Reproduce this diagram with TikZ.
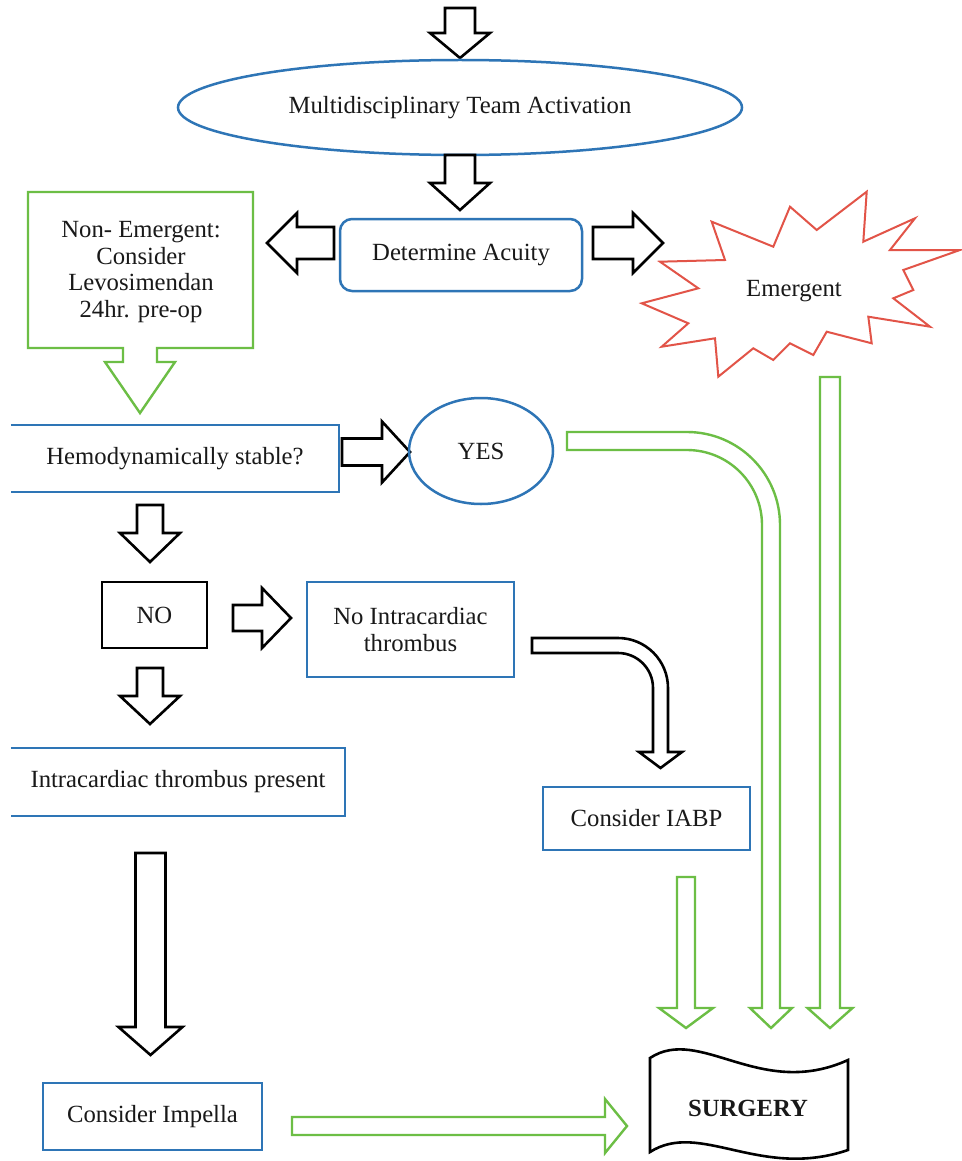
\documentclass[tikz,border=0pt]{standalone}
\usepackage{fontspec}
\setmainfont{Liberation Serif}
\usetikzlibrary{shapes.geometric}
\definecolor{bxblue}{RGB}{46,117,182}
\definecolor{bxgreen}{RGB}{108,190,69}
\definecolor{bxred}{RGB}{226,84,72}
\definecolor{txtc}{RGB}{25,25,25}
% down arrow: style, xc, ytop, ytip, half shaft, half head, head length
\newcommand\barrD[7]{\draw[#1] ({#2-#5},#3) -- ({#2+#5},#3) -- ({#2+#5},{#4-#7}) -- ({#2+#6},{#4-#7}) -- (#2,#4) -- ({#2-#6},{#4-#7}) -- ({#2-#5},{#4-#7}) -- cycle;}
% right arrow: style, yc, xstart, xtip, half shaft, half head, head length
\newcommand\barrR[7]{\draw[#1] (#3,{#2-#5}) -- ({#4-#7},{#2-#5}) -- ({#4-#7},{#2-#6}) -- (#4,#2) -- ({#4-#7},{#2+#6}) -- ({#4-#7},{#2+#5}) -- (#3,{#2+#5}) -- cycle;}
% left arrow: style, yc, xstart, xtip, half shaft, half head, head length
\newcommand\barrL[7]{\draw[#1] (#3,{#2-#5}) -- ({#4+#7},{#2-#5}) -- ({#4+#7},{#2-#6}) -- (#4,#2) -- ({#4+#7},{#2+#6}) -- ({#4+#7},{#2+#5}) -- (#3,{#2+#5}) -- cycle;}
\tikzset{
  txt/.style={font=\fontsize{24.7}{26.5}\selectfont, text=txtc, inner sep=0pt, align=center},
  bbox/.style={txt, rectangle, draw=bxblue, line width=2.5pt},
  ell/.style={txt, ellipse, draw=bxblue, line width=2.5pt},
  blueline/.style={draw=bxblue, line width=2.5pt},
  barr/.style={draw=black, line width=2.6pt, fill=white, line join=miter},
  garr/.style={draw=bxgreen, line width=2.4pt, fill=white, line join=miter},
}
\begin{document}
\begin{tikzpicture}[x=1pt,y=-1pt]
\fill[white] (0,0) rectangle (961,1161);
\useasboundingbox (0,0) rectangle (961,1161);

% top
\barrD{barr}{460}{8}{58}{15}{30}{25}
\node[ell, minimum width=564pt, minimum height=95pt] (mdt) at (460,107.5) {Multidisciplinary Team Activation};
\barrD{barr}{460}{155}{210}{15}{30}{27}
\node[bbox, rounded corners=12pt, minimum width=242pt, minimum height=72pt] (acu) at (461,255) {Determine Acuity};
\barrL{barr}{243}{334}{267}{16}{30}{30}
\barrR{barr}{243}{593}{663}{16}{30}{30}

% emergent starburst
\draw[draw=bxred, line width=2pt, fill=white, line join=miter]
 (641.7,303.3) -- (698.3,288.3) -- (660,261.7) -- (725,260) -- (711.7,221.7) -- (773.3,246.7)
 -- (790,206.7) -- (816.7,230) -- (866.7,191.7) -- (863.3,241.7) -- (915,218.3) -- (890,250)
 -- (960,250) -- (903.3,270) -- (913.3,290) -- (893.3,298.3) -- (930,326.7) -- (868.3,316.7)
 -- (871.7,343.3) -- (826.7,331.7) -- (813.3,355) -- (790,343.3) -- (773.3,360) -- (753.3,348.3)
 -- (718.3,376.7) -- (715,338.3) -- (661.7,346.7) -- (688.3,323.3) -- cycle;
\node[txt] (emg) at (794,291) {Emergent};

% non-emergent callout
\draw[garr] (28,192) -- (253,192) -- (253,348) -- (157,348) -- (157,362) -- (175,362) -- (140,413)
 -- (105,362) -- (123,362) -- (123,348) -- (28,348) -- cycle;
\node[txt] (nonem) at (141,272) {Non- Emergent:\\Consider\\Levosimendan\\24hr. pre-op};

% hemodynamically stable
\node[txt, minimum width=328pt, minimum height=67pt] (hemo) at (175,458.5) {Hemodynamically stable?};
\draw[blueline] (hemo.north west) -- (hemo.north east) -- (hemo.south east) -- (hemo.south west);
\barrR{barr}{452}{342}{410}{13.5}{30.5}{28}
\node[ell, minimum width=144pt, minimum height=106pt] (yes) at (481,451) {YES};

% NO branch
\barrD{barr}{150}{505}{562}{13}{30}{29}
\node[txt, draw=black, line width=2.6pt, minimum width=105pt, minimum height=66pt] (no) at (154.5,615) {NO};
\barrR{barr}{618}{233}{291}{13}{30}{29}
\node[bbox, minimum width=207pt, minimum height=95pt] (noit) at (410.5,629.5) {No Intracardiac\\thrombus};
\barrD{barr}{150}{668}{724}{13}{30}{28}
\node[txt, minimum width=334pt, minimum height=68pt] (itp) at (178,782) {Intracardiac thrombus present};
\draw[blueline] (itp.north west) -- (itp.north east) -- (itp.south east) -- (itp.south west);
\barrD{barr}{150.5}{853}{1055}{15}{32}{28}
\node[bbox, minimum width=219pt, minimum height=67pt] (imp) at (152.5,1116.5) {Consider Impella};
\barrR{garr}{1126}{292}{627}{9}{27}{22}

% black curved arrow to IABP
\draw[barr] (532,638) -- (618,638) arc[start angle=-90, end angle=0, radius=50] -- (668,752) -- (682,752)
 -- (660.5,768) -- (639,752) -- (653,752) -- (653,688) arc[start angle=0, end angle=-90, radius=35] -- (532,653) -- cycle;
\node[bbox, minimum width=207pt, minimum height=63pt] (iabp) at (646.5,818.5) {Consider IABP};
\barrD{garr}{686}{877}{1028}{9}{27}{20}

% green curved arrow from YES
\draw[garr] (567,432) -- (687,432) arc[start angle=-90, end angle=0, radius=93] -- (780,1008) -- (792,1008)
 -- (771,1028) -- (750,1008) -- (762,1008) -- (762,525) arc[start angle=0, end angle=-90, radius=75] -- (567,450) -- cycle;

% emergent straight arrow
\barrD{garr}{830}{377}{1028}{10}{22.5}{20}

% surgery
\draw[draw=black, line width=2.6pt, fill=white] (650,1058) .. controls (700,1025) and (760,1100) .. (848,1060)
 -- (848,1150) .. controls (760,1180) and (700,1120) .. (650,1152) -- cycle;
\node[txt, font=\fontsize{24.7}{26.5}\selectfont\bfseries] (surg) at (748,1108) {SURGERY};
\end{tikzpicture}
\end{document}
